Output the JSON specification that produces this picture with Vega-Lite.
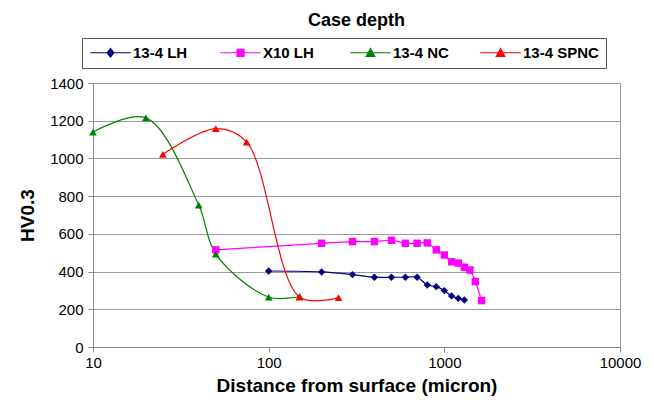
{
  "$schema": "https://vega.github.io/schema/vega-lite/v6.json",
  "width": 527,
  "height": 264,
  "autosize": {"type": "none"},
  "padding": {"left": 93, "top": 83, "right": 34, "bottom": 61},
  "background": "white",
  "title": {"text": "Case depth", "fontSize": 18, "font": "Liberation Sans", "fontWeight": "bold", "anchor": "middle", "offset": 8, "color": "black"},
  "config": {
    "font": "Liberation Sans",
    "view": {"stroke": "#999999", "strokeWidth": 1}
  },
  "data": {"values": [
    {"series": "13-4 LH", "x": 100, "y": 403},
    {"series": "13-4 LH", "x": 200, "y": 398},
    {"series": "13-4 LH", "x": 300, "y": 384},
    {"series": "13-4 LH", "x": 400, "y": 370},
    {"series": "13-4 LH", "x": 500, "y": 370},
    {"series": "13-4 LH", "x": 600, "y": 370},
    {"series": "13-4 LH", "x": 700, "y": 370},
    {"series": "13-4 LH", "x": 800, "y": 329},
    {"series": "13-4 LH", "x": 900, "y": 320},
    {"series": "13-4 LH", "x": 1000, "y": 299},
    {"series": "13-4 LH", "x": 1100, "y": 271},
    {"series": "13-4 LH", "x": 1200, "y": 258},
    {"series": "13-4 LH", "x": 1300, "y": 249},
    {"series": "X10 LH", "x": 50, "y": 515},
    {"series": "X10 LH", "x": 200, "y": 550},
    {"series": "X10 LH", "x": 300, "y": 559},
    {"series": "X10 LH", "x": 400, "y": 559},
    {"series": "X10 LH", "x": 500, "y": 566},
    {"series": "X10 LH", "x": 600, "y": 550},
    {"series": "X10 LH", "x": 700, "y": 550},
    {"series": "X10 LH", "x": 800, "y": 552},
    {"series": "X10 LH", "x": 900, "y": 515},
    {"series": "X10 LH", "x": 1000, "y": 488},
    {"series": "X10 LH", "x": 1100, "y": 452},
    {"series": "X10 LH", "x": 1200, "y": 445},
    {"series": "X10 LH", "x": 1300, "y": 423},
    {"series": "X10 LH", "x": 1400, "y": 408},
    {"series": "X10 LH", "x": 1500, "y": 347},
    {"series": "X10 LH", "x": 1630, "y": 246},
    {"series": "13-4 NC", "x": 10, "y": 1140},
    {"series": "13-4 NC", "x": 20, "y": 1215},
    {"series": "13-4 NC", "x": 40, "y": 752},
    {"series": "13-4 NC", "x": 50, "y": 493},
    {"series": "13-4 NC", "x": 100, "y": 265},
    {"series": "13-4 NC", "x": 150, "y": 268},
    {"series": "13-4 SPNC", "x": 25, "y": 1022},
    {"series": "13-4 SPNC", "x": 50, "y": 1158},
    {"series": "13-4 SPNC", "x": 75, "y": 1086},
    {"series": "13-4 SPNC", "x": 150, "y": 265},
    {"series": "13-4 SPNC", "x": 250, "y": 262}
  ]},
  "encoding": {
    "x": {"field": "x", "type": "quantitative",
      "scale": {"type": "log", "domain": [10, 10000], "nice": false},
      "axis": {"values": [10, 100, 1000, 10000], "format": "d", "grid": false,
        "title": "Distance from surface (micron)", "titleFontSize": 19, "titleFontWeight": "bold", "titleColor": "black", "titlePadding": 6,
        "labelFontSize": 15, "labelColor": "black", "labelPadding": 3,
        "domainColor": "#888888", "tickColor": "#888888", "tickSize": 5, "labelFlush": false}},
    "y": {"field": "y", "type": "quantitative",
      "scale": {"domain": [0, 1400], "nice": false},
      "axis": {"values": [0, 200, 400, 600, 800, 1000, 1200, 1400], "format": "d", "grid": true, "gridColor": "#999999", "gridWidth": 1,
        "title": "HV0.3", "titleFontSize": 19, "titleFontWeight": "bold", "titleColor": "black", "titlePadding": 12,
        "labelFontSize": 15, "labelColor": "black", "labelPadding": 5,
        "domainColor": "#888888", "tickColor": "#888888", "tickSize": 5}},
    "color": {"field": "series", "type": "nominal",
      "scale": {"domain": ["13-4 LH", "X10 LH", "13-4 NC", "13-4 SPNC"], "range": ["#000080", "#FF00FF", "#008000", "#FF0000"]},
      "legend": {"orient": "none", "legendX": -11, "legendY": -45, "direction": "horizontal", "title": null, "gridAlign": "all",
        "strokeColor": "#555555", "fillColor": "white", "padding": 7, "columnPadding": 10, "symbolOffset": 14, "labelOffset": 15,
        "labelFontSize": 15, "labelFontWeight": "bold", "labelColor": "black", "symbolSize": 225, "symbolStrokeWidth": 0, "symbolOpacity": 1}}
  },
  "layer": [
    {"mark": {"type": "point", "filled": true, "opacity": 1, "size": 0},
     "encoding": {"shape": {"field": "series", "type": "nominal",
       "scale": {"domain": ["13-4 LH", "X10 LH", "13-4 NC", "13-4 SPNC"],
         "range": [
           "M-2.7,-0.08H2.7V0.08H-2.7Z M0,-0.7L0.55,0L0,0.7L-0.55,0Z",
           "M-2.7,-0.08H2.7V0.08H-2.7Z M-0.55,-0.55H0.55V0.55H-0.55Z",
           "M-2.7,-0.08H2.7V0.08H-2.7Z M0,-0.75L0.7,0.55H-0.7Z",
           "M-2.7,-0.08H2.7V0.08H-2.7Z M0,-0.75L0.7,0.55H-0.7Z"]}}}},
    {"mark": {"type": "line", "interpolate": "catmull-rom", "strokeWidth": 1.2},
     "encoding": {"detail": {"field": "series"}}},
    {"transform": [{"filter": "datum.series === '13-4 LH'"}],
     "mark": {"type": "point", "filled": true, "opacity": 1, "size": 55, "shape": "diamond"}},
    {"transform": [{"filter": "datum.series === 'X10 LH'"}],
     "mark": {"type": "point", "filled": true, "opacity": 1, "size": 55, "shape": "square"}},
    {"transform": [{"filter": "datum.series === '13-4 NC' || datum.series === '13-4 SPNC'"}],
     "mark": {"type": "point", "filled": true, "opacity": 1, "size": 60, "shape": "triangle-up"}}
  ]
}
